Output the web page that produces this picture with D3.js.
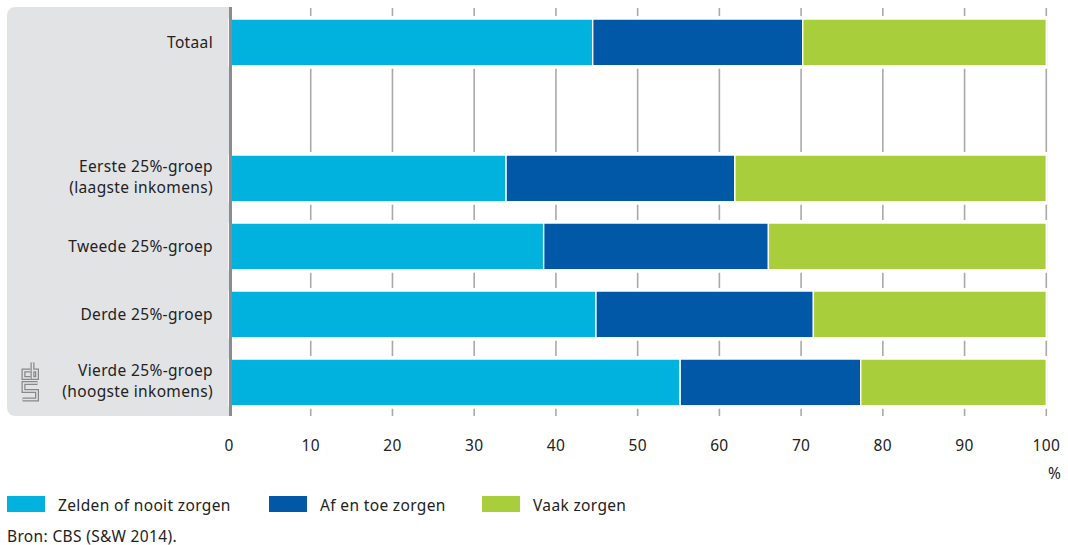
<!DOCTYPE html>
<html>
<head>
<meta charset="utf-8">
<script src="https://cdn.jsdelivr.net/npm/d3@7"></script>
<style>
  html, body { margin: 0; padding: 0; background: #fff; }
  svg { display: block; }
  text { font-family: "Noto Sans", "DejaVu Sans", sans-serif; fill: #222; letter-spacing: 0.35px; }
</style>
</head>
<body>
<svg id="chart" width="1068" height="545"></svg>
<script>
// ---- data ----
const categories = ["Totaal", "", "Eerste 25%-groep|(laagste inkomens)", "Tweede 25%-groep", "Derde 25%-groep", "Vierde 25%-groep|(hoogste inkomens)"];
const zelden   = [44.5, null, 33.9, 38.5, 44.9, 55.2];
const afEnToe  = [25.7, null, 28.0, 27.5, 26.6, 22.1];
const vaak     = [29.8, null, 38.1, 34.0, 28.5, 22.7];
const seriesNames = ["Zelden of nooit zorgen", "Af en toe zorgen", "Vaak zorgen"];
const seriesColors = ["#00b2dd", "#0058a7", "#a8ce3b"];
const xTicks = [0, 10, 20, 30, 40, 50, 60, 70, 80, 90, 100];
const unitLabel = "%";
const sourceText = "Bron: CBS (S&W 2014).";

// ---- chart ----
const svg = d3.select("#chart");
const FS = 15.5;

const x = d3.scaleLinear().domain([0, 100]).range([229, 1046.3]);
const y = d3.scaleBand().domain(categories.map((c, i) => i)).range([8.4, 416.4])
  .paddingInner(0.313).paddingOuter(0.1565);

// left label panel (rounded left corners)
const px0 = 7, px1 = 229, py0 = 7, py1 = 416, r = 9;
svg.append("path")
  .attr("d", `M${px1},${py0} H${px0 + r} Q${px0},${py0} ${px0},${py0 + r} V${py1 - r} Q${px0},${py1} ${px0 + r},${py1} H${px1} Z`)
  .attr("fill", "#e2e3e5");

// gridlines
svg.append("g").selectAll("line").data(xTicks.filter(t => t > 0)).join("line")
  .attr("x1", d => x(d)).attr("x2", d => x(d))
  .attr("y1", 8).attr("y2", 416)
  .attr("stroke", "#a9a9a9").attr("stroke-width", 1.6);

// stacked data
const rows = categories.map((c, i) => ({ i, vals: [zelden[i], afEnToe[i], vaak[i]] }))
  .filter(d => d.vals[0] != null);

const bars = svg.append("g");
rows.forEach(row => {
  const y0 = y(row.i), h = y.bandwidth();
  bars.append("rect").attr("x", x(0)).attr("y", y0 - 3).attr("width", x(100) - x(0) + 1)
    .attr("height", h + 6).attr("fill", "#fff");
  let acc = 0;
  row.vals.forEach((v, k) => {
    const s = acc, e = acc + v; acc = e;
    bars.append("rect")
      .attr("x", x(s)).attr("y", y0)
      .attr("width", Math.max(0, x(e) - x(s))).attr("height", h)
      .attr("fill", seriesColors[k])
      .attr("stroke", "#fff").attr("stroke-width", 1.4);
  });
});

// axis line at 0
svg.append("rect").attr("x", x(0)).attr("y", 7).attr("width", 3).attr("height", 409).attr("fill", "#8b8c8e");

// category labels
const lab = svg.append("g");
categories.forEach((c, i) => {
  if (!c) return;
  const lines = c.split("|");
  const cy = y(i) + y.bandwidth() / 2;
  const t = lab.append("text").attr("text-anchor", "end").attr("font-size", FS);
  if (lines.length === 1) {
    t.append("tspan").attr("x", 213).attr("y", cy + 6).text(lines[0]);
  } else {
    t.append("tspan").attr("x", 213).attr("y", cy - 6.6).text(lines[0]);
    t.append("tspan").attr("x", 213).attr("y", cy + 14.6).text(lines[1]);
  }
});

// x tick labels
svg.append("g").selectAll("text").data(xTicks).join("text")
  .attr("x", d => x(d)).attr("y", 451)
  .attr("text-anchor", "middle").attr("font-size", FS)
  .text(d => d);
svg.append("text").attr("x", 1054.5).attr("y", 479).attr("text-anchor", "middle")
  .attr("font-size", FS).text(unitLabel);

// CBS logo
const logo = svg.append("g");
const logoPaths = [
  "M30.5,370.5 H23.5 V378 H30.5",
  "M32.5,362.5 V378 H37 V370.5 H32.5",
  "M37.5,383 H23.5 V391 H37 V399.5 H22.5"
];
logoPaths.forEach(p => {
  logo.append("path").attr("d", p).attr("fill", "none").attr("stroke", "#86888a").attr("stroke-width", 4);
});
logoPaths.forEach(p => {
  logo.append("path").attr("d", p).attr("fill", "none").attr("stroke", "#e2e3e5").attr("stroke-width", 1.5);
});

// legend
const legX = [7, 269, 482];
const leg = svg.append("g");
seriesNames.forEach((n, k) => {
  leg.append("rect").attr("x", legX[k]).attr("y", 496).attr("width", 38).attr("height", 16).attr("fill", seriesColors[k]);
  leg.append("text").attr("x", legX[k] + 51).attr("y", 510.5).attr("font-size", FS).text(n);
});

// source
svg.append("text").attr("x", 7).attr("y", 541.5).attr("font-size", FS).text(sourceText);
</script>
</body>
</html>
